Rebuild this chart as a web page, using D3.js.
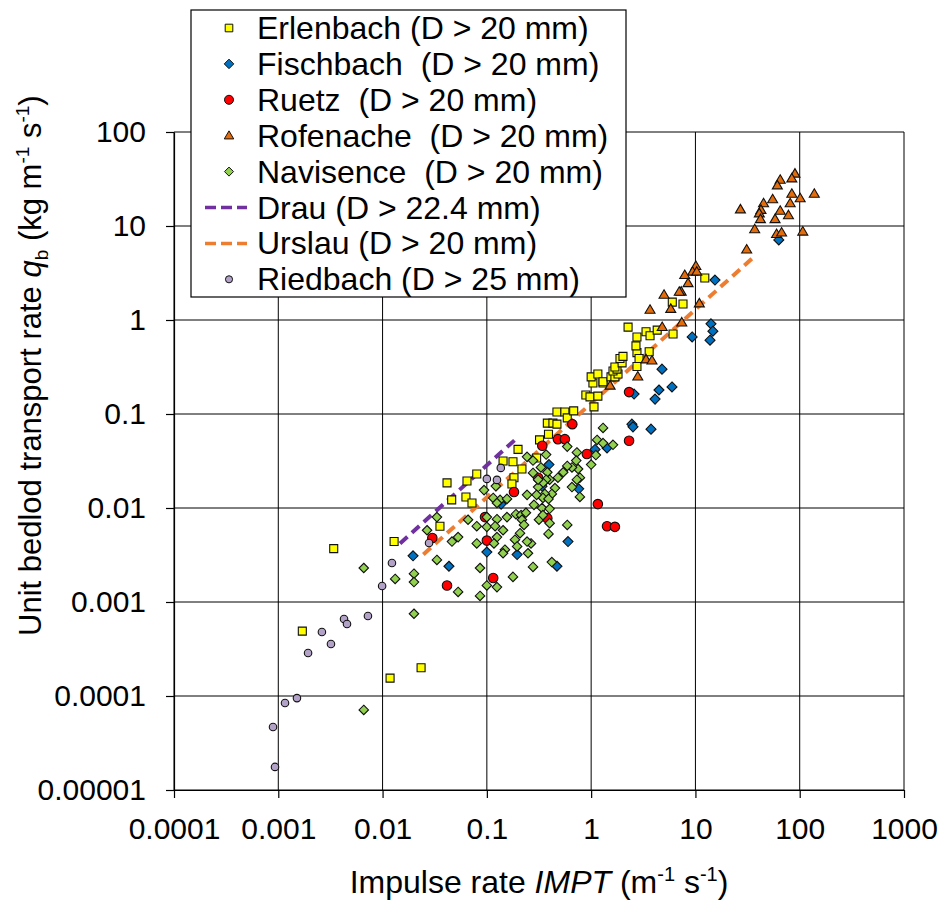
<!DOCTYPE html>
<html lang="en">
<head>
<meta charset="utf-8">
<title>Unit bedload transport rate vs impulse rate</title>
<script src="https://d3js.org/d3.v7.min.js"></script>
<style>
  body { margin: 0; background: #fff; }
  svg { display: block; font-family: Arial, "Liberation Sans", sans-serif; }
</style>
</head>
<body>
<div id="main"></div>
<script>
// ---- data (IMPT, qb) ----
var erlenbach = [[0.0017,0.00049],[0.0034,0.0037],[0.0118,0.000155],[0.0234,0.0002],[0.0129,0.0044],[0.0355,0.0064],[0.046,0.0122],[0.0415,0.0185],[0.0645,0.0194],[0.08,0.023],[0.063,0.0131],[0.072,0.0113],[0.143,0.0316],[0.178,0.031],[0.199,0.042],[0.217,0.026],[0.182,0.021],[0.174,0.018],[0.30,0.034],[0.32,0.053],[0.39,0.061],[0.38,0.080],[0.43,0.080],[0.47,0.078],[0.47,0.105],[0.56,0.105],[0.59,0.091],[0.68,0.108],[0.89,0.159],[0.975,0.152],[1.065,0.119],[1.16,0.155],[1.04,0.214],[1.30,0.214],[1.0,0.248],[1.16,0.266],[1.30,0.22],[1.55,0.248],[1.69,0.248],[1.81,0.266],[1.62,0.287],[1.77,0.30],[1.69,0.316],[1.98,0.35],[1.89,0.39],[2.02,0.41],[2.75,0.32],[2.75,0.45],[2.88,0.39],[2.69,0.53],[3.6,0.46],[2.26,0.84],[2.75,0.66],[3.36,0.75],[3.67,0.68],[4.3,0.78],[6.1,0.71],[6.0,1.55],[7.6,1.48],[12.3,2.8]];

var fischbach = [[0.0196,0.0031],[0.0433,0.0024],[0.100,0.0034],[0.137,0.011],[0.195,0.0032],[0.394,0.029],[0.338,0.017],[0.47,0.0024],[0.60,0.0044],[0.76,0.016],[1.09,0.042],[1.42,0.0435],[2.46,0.078],[2.52,0.073],[3.75,0.069],[2.58,0.163],[4.1,0.144],[4.47,0.18],[5.96,0.194],[4.78,0.30],[9.3,0.66],[14.1,0.91],[14.7,0.76],[13.8,0.61],[15.4,2.66],[63,7.1]];

var ruetz = [[0.030,0.0048],[0.0415,0.0015],[0.100,0.0045],[0.115,0.0018],[0.096,0.008],[0.182,0.0148],[0.31,0.021],[0.34,0.046],[0.38,0.0078],[0.48,0.054],[0.56,0.054],[0.66,0.078],[0.91,0.0375],[1.16,0.011],[1.42,0.0064],[1.69,0.0063],[2.31,0.171],[2.31,0.052]];

var rofenache = [[90,36],[84,32],[65,31],[61,27],[138,22],[84,22],[101,19.7],[55,19.2],[81,17.4],[45,17.4],[65,14.5],[42.5,14.8],[27,15],[41,13.6],[78,13],[42,11.8],[58,11.8],[37,9.2],[60,8.2],[67,8.5],[107,8.7],[31,5.6],[10.1,3.75],[9.4,3.26],[7.9,3.0],[10.3,3.26],[8.5,2.46],[10.9,1.5],[7.3,2.0],[7.4,0.94],[1.52,0.20],[2.8,0.25],[3.36,0.38],[3.83,0.37],[4.8,0.84],[5.0,1.85],[3.67,1.28],[5.8,1.31],[7.0,1.99]];

var navisence = [[0.0066,0.0023],[0.0066,0.000071],[0.020,0.00075],[0.0132,0.00176],[0.020,0.0020],[0.020,0.00163],[0.0267,0.0058],[0.0332,0.008],[0.0332,0.0028],[0.0463,0.0044],[0.053,0.0049],[0.053,0.00128],[0.066,0.0075],[0.080,0.0064],[0.080,0.0042],[0.086,0.0023],[0.086,0.00116],[0.100,0.0015],[0.125,0.00144],[0.178,0.00185],[0.277,0.00236],[0.42,0.00266],[0.094,0.0155],[0.122,0.0171],[0.115,0.0128],[0.134,0.0122],[0.125,0.0113],[0.100,0.0080],[0.125,0.0076],[0.156,0.0080],[0.100,0.0063],[0.120,0.0064],[0.143,0.0058],[0.125,0.0049],[0.117,0.0042],[0.149,0.0036],[0.143,0.0033],[0.186,0.0046],[0.195,0.0039],[0.248,0.0033],[0.265,0.0042],[0.190,0.0086],[0.213,0.0084],[0.237,0.0089],[0.217,0.0075],[0.227,0.0066],[0.208,0.0054],[0.316,0.0075],[0.40,0.0069],[0.39,0.0053],[0.59,0.0066],[0.243,0.0138],[0.283,0.0108],[0.338,0.0100],[0.40,0.0098],[0.345,0.0084],[0.243,0.035],[0.277,0.032],[0.37,0.037],[0.59,0.045],[1.30,0.071],[1.14,0.053],[1.30,0.049],[1.62,0.047],[1.11,0.0366],[1.0,0.029],[0.73,0.039],[0.72,0.032],[0.75,0.026],[0.655,0.027],[0.59,0.028],[0.54,0.024],[0.78,0.021],[0.73,0.020],[0.655,0.0167],[0.78,0.0131],[0.48,0.021],[0.40,0.020],[0.45,0.0163],[0.42,0.0141],[0.38,0.024],[0.33,0.027],[0.37,0.020],[0.345,0.0185],[0.31,0.0167],[0.36,0.0141],[0.345,0.0128],[0.39,0.0125],[0.30,0.0138],[0.277,0.0236],[0.31,0.020],[0.156,0.0125],[0.243,0.0044]];

var drau = [[0.0147,0.0042],[0.2,0.057]];
var urslau = [[0.0246,0.0032],[36,4.65]];

var riedbach = [[0.00093,0.0000176],[0.00089,0.0000468],[0.00116,0.0000843],[0.00151,0.000095],[0.00193,0.000287],[0.00262,0.00048],[0.0032,0.000357],[0.00427,0.000659],[0.00456,0.000583],[0.00724,0.00071],[0.0099,0.00148],[0.0123,0.0026],[0.0279,0.00425],[0.100,0.0204],[0.125,0.0199],[0.136,0.0267]];

var xTicks = [0.0001, 0.001, 0.01, 0.1, 1, 10, 100, 1000];
var xTickLabels = ["0.0001", "0.001", "0.01", "0.1", "1", "10", "100", "1000"];
var yTicks = [0.00001, 0.0001, 0.001, 0.01, 0.1, 1, 10, 100];
var yTickLabels = ["0.00001", "0.0001", "0.001", "0.01", "0.1", "1", "10", "100"];

var legendNames = ["Erlenbach (D > 20 mm)", "Fischbach  (D > 20 mm)", "Ruetz  (D > 20 mm)",
                   "Rofenache  (D > 20 mm)", "Navisence  (D > 20 mm)", "Drau (D > 22.4 mm)",
                   "Urslau (D > 20 mm)", "Riedbach (D > 25 mm)"];

// ---- setup ----
var width = 941, height = 904;
var pLeft = 174, pRight = 904, pTop = 132, pBottom = 790;

var svg = d3.select("#main").append("svg")
    .attr("width", width)
    .attr("height", height);

var x = d3.scaleLog().domain([1e-4, 1e3]).range([pLeft, pRight]);
var y = d3.scaleLog().domain([1e-5, 1e2]).range([pBottom, pTop]);

// marker shapes, centred on 0,0
function square(s) { return "M" + (-s/2) + "," + (-s/2) + "h" + s + "v" + s + "h" + (-s) + "Z"; }
function diamond(s) { return "M0," + (-s/2) + "L" + (s/2) + ",0L0," + (s/2) + "L" + (-s/2) + ",0Z"; }
function triangle(s) { var h = s * 0.85; return "M0," + (-h*0.6) + "L" + (s/2) + "," + (h*0.4) + "L" + (-s/2) + "," + (h*0.4) + "Z"; }

var series = [
  {name: legendNames[0], data: erlenbach, kind: "square",   fill: "#FFFF00", size: 8},
  {name: legendNames[1], data: fischbach, kind: "diamond",  fill: "#0070C0", size: 10},
  {name: legendNames[2], data: ruetz,     kind: "circle",   fill: "#FF0000", size: 9.5},
  {name: legendNames[3], data: rofenache, kind: "triangle", fill: "#E46C0A", size: 10},
  {name: legendNames[4], data: navisence, kind: "diamond",  fill: "#92D050", size: 9.5},
  {name: legendNames[5], data: drau,      kind: "line",     color: "#7030A0"},
  {name: legendNames[6], data: urslau,    kind: "line",     color: "#ED7D31"},
  {name: legendNames[7], data: riedbach,  kind: "circle",   fill: "#B3A2C7", size: 7.5}
];

// ---- grid ----
var grid = svg.append("g").attr("stroke", "#000").attr("stroke-width", 1);
grid.selectAll("line.v").data(xTicks).enter().append("line")
    .attr("class", "v")
    .attr("x1", function(d){ return x(d); }).attr("x2", function(d){ return x(d); })
    .attr("y1", pTop).attr("y2", pBottom);
grid.selectAll("line.h").data(yTicks).enter().append("line")
    .attr("class", "h")
    .attr("x1", pLeft).attr("x2", pRight)
    .attr("y1", function(d){ return y(d); }).attr("y2", function(d){ return y(d); });

// ---- axes ----
var xAxis = d3.axisBottom(x).tickValues(xTicks)
    .tickFormat(function(d, i){ return xTickLabels[i]; })
    .tickSize(8).tickSizeOuter(0).tickPadding(20);
var yAxis = d3.axisLeft(y).tickValues(yTicks)
    .tickFormat(function(d, i){ return yTickLabels[i]; })
    .tickSize(8).tickSizeOuter(0).tickPadding(20);

var gx = svg.append("g").attr("transform", "translate(0," + pBottom + ")").call(xAxis);
var gy = svg.append("g").attr("transform", "translate(" + pLeft + ",0)").call(yAxis);
[gx, gy].forEach(function(g){
  g.selectAll("text").attr("font-size", 30).attr("font-family", "Arial, 'Liberation Sans', sans-serif").attr("fill", "#000");
  g.selectAll("line, path").attr("stroke", "#000").attr("stroke-width", 1.2);
});

// ---- dashed fits ----
var line = d3.line().x(function(d){ return x(d[0]); }).y(function(d){ return y(d[1]); });
series.filter(function(s){ return s.kind === "line"; }).forEach(function(s){
  svg.append("path").datum(s.data)
    .attr("d", line)
    .attr("fill", "none")
    .attr("stroke", s.color)
    .attr("stroke-width", 4)
    .attr("stroke-dasharray", "10,6");
});

// ---- markers ----
function drawMarker(g, s, scale) {
  var sz = s.size * scale;
  if (s.kind === "circle") {
    return g.append("circle").attr("r", sz/2);
  }
  var p = s.kind === "square" ? square(sz) : s.kind === "diamond" ? diamond(sz) : triangle(sz);
  return g.append("path").attr("d", p);
}

series.filter(function(s){ return s.kind !== "line"; }).forEach(function(s){
  var g = svg.append("g");
  s.data.forEach(function(d){
    var m = g.append("g").attr("transform", "translate(" + x(d[0]) + "," + y(d[1]) + ")");
    drawMarker(m, s, 1)
      .attr("fill", s.fill)
      .attr("stroke", "#111")
      .attr("stroke-width", 1.1);
  });
});

// ---- legend ----
var lg = svg.append("g");
lg.append("rect")
    .attr("x", 191).attr("y", 10).attr("width", 435).attr("height", 287)
    .attr("fill", "#fff").attr("stroke", "#000").attr("stroke-width", 1.2);

series.forEach(function(s, i){
  var cy = 28 + i * 35.9;
  var item = lg.append("g").attr("transform", "translate(229," + cy + ")");
  if (s.kind === "line") {
    item.append("line").attr("x1", -24).attr("x2", 18).attr("y1", 0).attr("y2", 0)
      .attr("stroke", s.color).attr("stroke-width", 3.5).attr("stroke-dasharray", "11,5");
  } else {
    drawMarker(item, s, 0.95).attr("fill", s.fill).attr("stroke", "#111").attr("stroke-width", 1);
  }
  lg.append("text")
    .attr("x", 257).attr("y", cy + 11)
    .attr("font-size", 32)
    .style("white-space", "pre")
    .text(s.name);
});

// ---- axis titles ----
var xt = svg.append("text")
    .attr("x", (pLeft + pRight) / 2).attr("y", 893)
    .attr("text-anchor", "middle")
    .attr("font-size", 32);
xt.append("tspan").text("Impulse rate ");
xt.append("tspan").attr("font-style", "italic").text("IMPT");
xt.append("tspan").text(" (m");
xt.append("tspan").attr("font-size", 20).attr("dy", -12).text("-1");
xt.append("tspan").attr("dy", 12).text(" s");
xt.append("tspan").attr("font-size", 20).attr("dy", -12).text("-1");
xt.append("tspan").attr("dy", 12).text(")");

var yt = svg.append("text")
    .attr("transform", "translate(41,636) rotate(-90)")
    .attr("font-size", 31);
yt.append("tspan").text("Unit bedlod transport rate ");
yt.append("tspan").attr("font-style", "italic").text("q");
yt.append("tspan").attr("font-size", 19).attr("dy", 7).text("b");
yt.append("tspan").attr("dy", -7).text(" (kg m");
yt.append("tspan").attr("font-size", 19).attr("dy", -12).text("-1");
yt.append("tspan").attr("dy", 12).text(" s");
yt.append("tspan").attr("font-size", 19).attr("dy", -12).text("-1");
yt.append("tspan").attr("dy", 12).text(")");
</script>
</body>
</html>
